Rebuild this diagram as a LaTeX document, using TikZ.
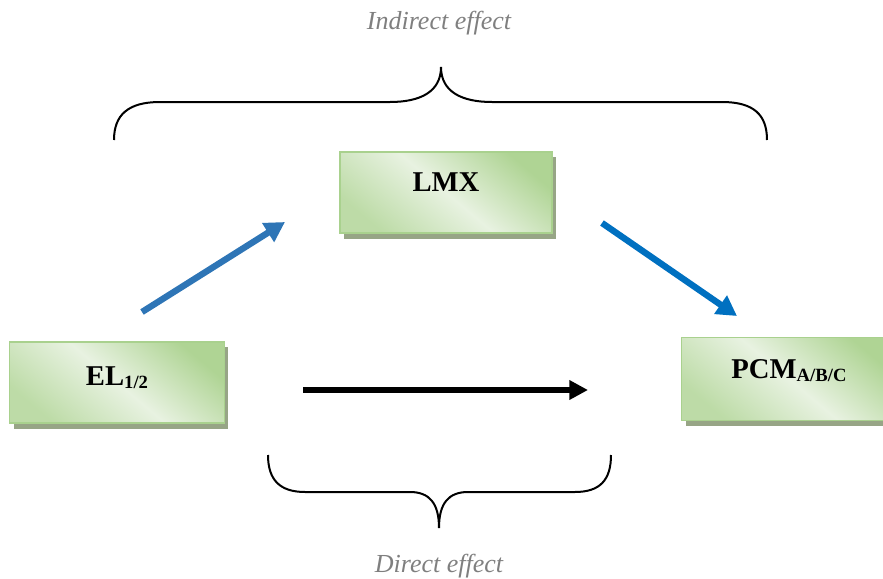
\documentclass[tikz,border=0pt]{standalone}
\usepackage{fontspec}
\setmainfont{Liberation Serif}
\usetikzlibrary{arrows.meta,shadows}
\definecolor{boxborder}{HTML}{A9D18E}
\definecolor{boxdark}{HTML}{AFD494}
\definecolor{boxlight}{HTML}{E8F2E1}
\definecolor{boxshadow}{HTML}{97A586}
\definecolor{bluea}{HTML}{2E75B6}
\definecolor{blueb}{HTML}{0070C0}
\definecolor{greytext}{HTML}{7F7F7F}
\tikzset{
  varbox/.style={draw=boxborder, line width=1.2pt, shading=axis,
    top color=boxdark, bottom color=boxdark!75!boxlight, middle color=boxlight,
    shading angle=-40, minimum width=159pt, minimum height=61pt,
    font=\bfseries\fontsize{21.5}{24}\selectfont, text depth=15pt,
    drop shadow={shadow xshift=3pt, shadow yshift=-4pt, fill=boxshadow, opacity=1}},
  effect/.style={font=\itshape\fontsize{19.5}{22}\selectfont, text=greytext},
  brace/.style={line width=1.5pt, black},
  path arrow a/.style={line width=4.8pt, bluea, -{Triangle[length=15pt,width=16pt]}},
  path arrow b/.style={line width=4.8pt, blueb, -{Triangle[length=15pt,width=16pt]}},
  path arrow c/.style={line width=3.8pt, black, -{Triangle[length=14pt,width=14pt]}},
}
\newcommand{\subtxt}[1]{\raisebox{-2pt}{\fontsize{14}{16}\selectfont #1}}
\begin{document}
\begin{tikzpicture}[x=0.75pt, y=-0.75pt]
\useasboundingbox (0,0) rectangle (883,579);
% boxes
\node[varbox] (lmx) at (446,192.5) {LMX};
\node[varbox, minimum width=161pt, minimum height=61pt, text depth=9pt] (el) at (117,382.5) {EL\subtxt{1/2}};
\node[varbox, minimum width=161pt, minimum height=62pt] (pcm) at (789,379) {PCM\subtxt{A/B/C}};
% effect labels
\node[effect] (ind) at (439,23) {Indirect effect};
\node[effect] (dir) at (439,566) {Direct effect};
% arrow end points
\coordinate (a1) at (142,312);
\coordinate (a2) at (285,222);
\coordinate (b1) at (602,223);
\coordinate (b2) at (737,316);
\coordinate (c1) at (303,390);
\coordinate (c2) at (588,390);
\draw[path arrow a] (a1) -- (a2);
\draw[path arrow b] (b1) -- (b2);
\draw[path arrow c] (c1) -- (c2);
% top brace
\coordinate (tl) at (114,140);
\coordinate (tt) at (441,67);
\coordinate (tr) at (767,140);
\draw[brace] (tl) .. controls (114,115) and (128,102) .. (160,102)
  -- (390,102) .. controls (420,102) and (441,92) .. (tt)
  .. controls (441,92) and (462,102) .. (492,102)
  -- (722,102) .. controls (754,102) and (767,115) .. (tr);
% bottom brace
\coordinate (bl) at (268,455);
\coordinate (bt) at (439,528);
\coordinate (br) at (611,455);
\draw[brace] (bl) .. controls (268,480) and (280,492) .. (305,492)
  -- (410,492) .. controls (430,492) and (439,504) .. (bt)
  .. controls (439,504) and (448,492) .. (468,492)
  -- (575,492) .. controls (600,492) and (611,480) .. (br);
\end{tikzpicture}
\end{document}
